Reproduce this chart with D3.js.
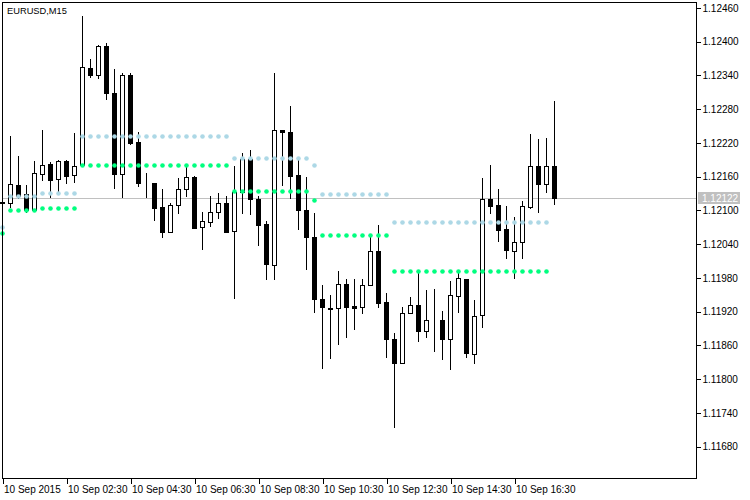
<!DOCTYPE html>
<html>
<head>
<meta charset="utf-8">
<script src="https://cdn.jsdelivr.net/npm/d3@7"></script>
<style>
html,body{margin:0;padding:0;background:#fff;}
svg{display:block;}
text{font-family:"Liberation Sans",Arial,sans-serif;font-size:10px;fill:#000;}
</style>
</head>
<body>
<svg id="chart" width="750" height="500"></svg>
<script>
// ---- data (EURUSD M15, one value per bar) ----
const opens = [
1.12113,1.12113,1.12145,1.12129,1.12101,1.12165,1.12183,1.12156,1.12188,1.12163,
1.12181,1.12353,1.12341,1.12392,1.12308,1.12164,1.12340,1.12222,1.12148,1.12149,
1.12106,1.12062,1.12109,1.12138,1.12160,1.12070,1.12079,1.12098,1.12114,1.12064,
1.12133,1.12191,1.12120,1.12076,1.12003,1.12243,1.12240,1.12163,1.12101,1.12053,
1.11942,1.11927,1.11926,1.11969,1.11930,1.11928,1.11967,1.12028,1.11937,1.11871,
1.11829,1.11918,1.11932,1.11886,1.11903,1.11905,1.11871,1.11948,1.11978,1.11845,
1.11914,1.12120,1.12110,1.12067,1.12028,1.12044,1.12106,1.12179,1.12147,1.12179];
const highs = [
1.12120,1.12232,1.12197,1.12145,1.12188,1.12243,1.12186,1.12190,1.12190,1.12238,
1.12445,1.12369,1.12394,1.12397,1.12352,1.12344,1.12344,1.12239,1.12167,1.12149,
1.12138,1.12114,1.12157,1.12177,1.12161,1.12097,1.12126,1.12131,1.12126,1.12179,
1.12202,1.12207,1.12126,1.12081,1.12344,1.12243,1.12286,1.12190,1.12159,1.12095,
1.11967,1.11950,1.11992,1.11978,1.11978,1.11978,1.12053,1.12074,1.11953,1.11882,
1.11928,1.11946,1.11989,1.11959,1.11960,1.11921,1.11975,1.11994,1.11978,1.11941,
1.12158,1.12181,1.12138,1.12108,1.12088,1.12117,1.12236,1.12227,1.12229,1.12295];
const lows = [
1.12097,1.12106,1.12122,1.12097,1.12101,1.12154,1.12124,1.12135,1.12149,1.12151,
1.12179,1.12338,1.12336,1.12299,1.12140,1.12124,1.12219,1.12143,1.12123,1.12083,
1.12053,1.12062,1.12096,1.12126,1.12069,1.12031,1.12073,1.12087,1.12062,1.11944,
1.12095,1.12094,1.12038,1.11978,1.11978,1.12145,1.12122,1.12067,1.11996,1.11919,
1.11819,1.11838,1.11863,1.11875,1.11890,1.11918,1.11967,1.11929,1.11840,1.11715,
1.11829,1.11918,1.11868,1.11875,1.11850,1.11836,1.11818,1.11919,1.11839,1.11829,
1.11893,1.12095,1.12046,1.12015,1.11980,1.12015,1.12104,1.12097,1.12133,1.12111];
const closes = [
1.12115,1.12147,1.12126,1.12101,1.12167,1.12181,1.12154,1.12188,1.12161,1.12179,
1.12355,1.12340,1.12392,1.12308,1.12164,1.12340,1.12220,1.12148,1.12148,1.12105,
1.12062,1.12109,1.12138,1.12159,1.12069,1.12081,1.12098,1.12114,1.12062,1.12133,
1.12191,1.12120,1.12074,1.12005,1.12243,1.12240,1.12161,1.12101,1.12053,1.11942,
1.11928,1.11924,1.11969,1.11928,1.11927,1.11967,1.12028,1.11935,1.11871,1.11829,
1.11918,1.11932,1.11886,1.11905,1.11903,1.11871,1.11950,1.11980,1.11846,1.11912,
1.12120,1.12108,1.12065,1.12030,1.12044,1.12108,1.12179,1.12147,1.12179,1.12122];
// indicator levels (dots), null = no dot
const upperLevel = [
1.12071,1.12126,1.12126,1.12126,1.12126,1.12131,1.12131,1.12131,1.12131,1.12131,
1.12232,1.12232,1.12232,1.12232,1.12232,1.12232,1.12232,1.12232,1.12232,1.12232,
1.12232,1.12232,1.12232,1.12232,1.12232,1.12232,1.12232,1.12232,1.12232,1.12194,
1.12194,1.12194,1.12194,1.12194,1.12194,1.12194,1.12194,1.12194,1.12194,1.12180,
1.12130,1.12130,1.12130,1.12130,1.12130,1.12130,1.12130,1.12130,1.12130,1.12079,
1.12079,1.12079,1.12079,1.12079,1.12079,1.12079,1.12079,1.12079,1.12079,1.12079,
1.12079,1.12079,1.12079,1.12079,1.12079,1.12079,1.12079,1.12079,1.12079,null];
const lowerLevel = [
1.12059,1.12101,1.12101,1.12101,1.12101,1.12104,1.12104,1.12104,1.12104,1.12104,
1.12180,1.12180,1.12180,1.12180,1.12180,1.12180,1.12180,1.12180,1.12180,1.12180,
1.12180,1.12180,1.12180,1.12180,1.12180,1.12180,1.12180,1.12180,1.12180,1.12134,
1.12134,1.12134,1.12134,1.12134,1.12134,1.12134,1.12134,1.12134,1.12134,1.12118,
1.12056,1.12056,1.12056,1.12056,1.12056,1.12056,1.12056,1.12056,1.12056,1.11992,
1.11992,1.11992,1.11992,1.11992,1.11992,1.11992,1.11992,1.11992,1.11992,1.11992,
1.11992,1.11992,1.11992,1.11992,1.11992,1.11992,1.11992,1.11992,1.11992,null];
const priceTicks = [1.12460,1.12400,1.12340,1.12280,1.12220,1.12160,1.12100,1.12040,1.11980,1.11920,1.11860,1.11800,1.11740,1.11680];
const timeTickBars = [0,8,16,24,32,40,48,56,64];
const timeTickLabels = ["10 Sep 2015","10 Sep 02:30","10 Sep 04:30","10 Sep 06:30","10 Sep 08:30","10 Sep 10:30","10 Sep 12:30","10 Sep 14:30","10 Sep 16:30"];
const symbolTitle = "EURUSD,M15";
const currentPrice = 1.12122;

// ---- layout ----
const plotL = 2, plotT = 2, plotR = 696, plotB = 478;

const bars = opens.map((o,i)=>({i, o, h:highs[i], l:lows[i], c:closes[i], up:upperLevel[i], lo:lowerLevel[i]}));

const x = d3.scaleLinear().domain([0, 69]).range([2, 554]);
const y = d3.scaleLinear().domain([1.11680, 1.12460]).range([446.6, 8]);

const svg = d3.select("#chart");
svg.append("defs").append("clipPath").attr("id","plotclip")
  .append("rect").attr("x",0).attr("y",plotT).attr("width",plotR).attr("height",plotB-plotT);

const plot = svg.append("g").attr("clip-path","url(#plotclip)");

// current price line (behind candles)
const cpY = Math.round(y(currentPrice)) + 0.5;
plot.append("line").attr("x1",plotL).attr("x2",plotR).attr("y1",cpY).attr("y2",cpY)
  .attr("stroke","#c0c0c0").attr("stroke-width",1).attr("shape-rendering","crispEdges");

// candles
const cg = plot.append("g").attr("shape-rendering","crispEdges");
bars.forEach(b=>{
  const cx = Math.round(x(b.i)) + 0.5;
  const yh = Math.round(y(b.h)), yl = Math.round(y(b.l));
  cg.append("line").attr("x1",cx).attr("x2",cx).attr("y1",yh).attr("y2",yl+1)
    .attr("stroke","#000").attr("stroke-width",1);
  const top = Math.round(y(Math.max(b.o,b.c)));
  const bot = Math.round(y(Math.min(b.o,b.c)));
  const bull = b.c >= b.o;
  cg.append("rect").attr("x",cx-2).attr("y",top+0.5).attr("width",4).attr("height",Math.max(0,bot-top))
    .attr("fill", bull ? "#fff" : "#000").attr("stroke","#000").attr("stroke-width",1);
});

// indicator dots
const dg = plot.append("g");
dg.selectAll("circle.up").data(bars.filter(b=>b.up!=null)).join("circle").attr("class","up")
  .attr("cx",b=>x(b.i)+0.5).attr("cy",b=>Math.round(y(b.up))+0.5).attr("r",2.3).attr("fill","#add8e6");
dg.selectAll("circle.lo").data(bars.filter(b=>b.lo!=null)).join("circle").attr("class","lo")
  .attr("cx",b=>x(b.i)+0.5).attr("cy",b=>Math.round(y(b.lo))+0.5).attr("r",2.3).attr("fill","#00ff7f");

// frame
svg.append("rect").attr("x",plotL+0.5).attr("y",plotT+0.5).attr("width",plotR-plotL).attr("height",plotB-plotT)
  .attr("fill","none").attr("stroke","#000").attr("stroke-width",1).attr("shape-rendering","crispEdges");

// title
svg.append("text").attr("x",7).attr("y",14).style("font-size","9.3px").text(symbolTitle);

// price axis
const yAxis = d3.axisRight(y).tickValues(priceTicks).tickFormat(d3.format(".5f")).tickSize(4).tickPadding(2);
const ya = svg.append("g").attr("transform",`translate(${plotR+0.5},0)`).call(yAxis);
ya.select(".domain").remove();
ya.selectAll(".tick line").attr("stroke","#000").attr("shape-rendering","crispEdges");
ya.selectAll(".tick text").attr("font-family","Liberation Sans, Arial, sans-serif").attr("font-size",10).attr("fill","#000");

// current price label
const cpl = svg.append("g");
cpl.append("rect").attr("x",698).attr("y",cpY-6.5).attr("width",42).attr("height",12).attr("fill","#c0c0c0");
cpl.append("text").attr("x",702).attr("y",cpY+3.5).style("fill","#fff").text(d3.format(".5f")(currentPrice));

// time axis
const xAxis = d3.axisBottom(x).tickValues(timeTickBars).tickFormat((d,i)=>timeTickLabels[i]).tickSize(5).tickPadding(2);
const xa = svg.append("g").attr("transform",`translate(0.5,${plotB+0.5})`).call(xAxis);
xa.select(".domain").remove();
xa.selectAll(".tick line").attr("stroke","#000").attr("shape-rendering","crispEdges");
xa.selectAll(".tick text").attr("text-anchor","start").attr("dx",1).attr("font-family","Liberation Sans, Arial, sans-serif").attr("font-size",9).attr("fill","#000");
</script>
</body>
</html>
